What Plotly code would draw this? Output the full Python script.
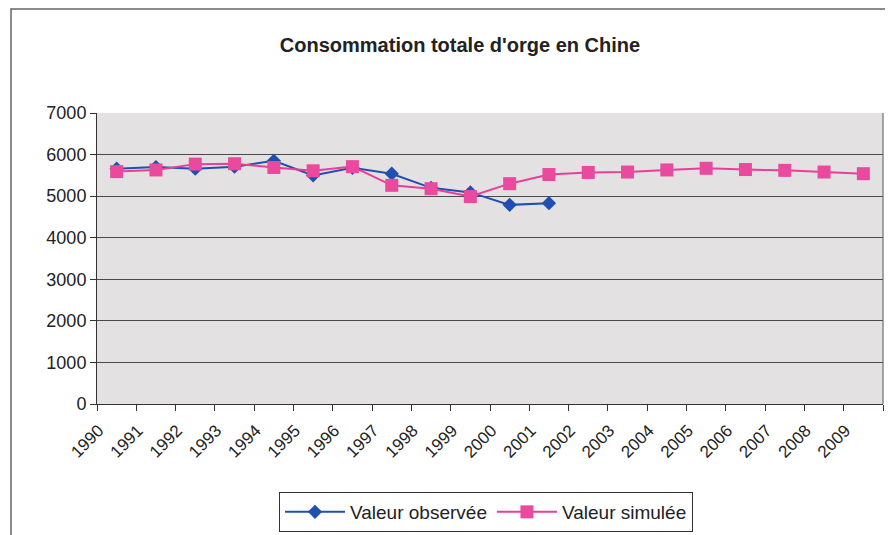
import plotly.graph_objects as go

years = [str(y) for y in range(1990, 2010)]
observed = [5660, 5700, 5660, 5710, 5850, 5500, 5680, 5540, 5200, 5090, 4790, 4830]
simulated = [5590, 5630, 5770, 5780, 5690, 5610, 5710, 5260, 5180, 4990, 5300, 5520,
             5570, 5580, 5630, 5670, 5640, 5620, 5580, 5540]

OFF = 8  # page body margin offset
PX0, PX1 = 97 - OFF, 883 - OFF
PY0, PY1 = 113 - OFF, 404 - OFF
W, H = 893 - OFF, 535 - OFF

def px(x):
    return (x - OFF - PX0) / (PX1 - PX0)

def py(y):
    return (PY1 - (y - OFF)) / (PY1 - PY0)

fig = go.Figure()
fig.add_trace(go.Scatter(
    x=years[:len(observed)], y=observed, name="Valeur observée",
    mode="lines+markers",
    line=dict(color="#1f4fb0", width=2),
    marker=dict(symbol="diamond", size=11, color="#1f4fb0"),
))
fig.add_trace(go.Scatter(
    x=years, y=simulated, name="Valeur simulée",
    mode="lines+markers",
    line=dict(color="#e8409a", width=2),
    marker=dict(symbol="square", size=13, color="#ea4a9e"),
))

fig.update_layout(
    width=W, height=H,
    margin=dict(l=PX0, r=W - PX1, t=PY0, b=H - PY1, autoexpand=False),
    paper_bgcolor="white",
    plot_bgcolor="#e3e1e1",
    font=dict(family="Liberation Sans, Arial, sans-serif", size=16, color="#222"),
    title=dict(text="<b>Consommation totale d'orge en Chine</b>",
               x=(460 - OFF) / W, xanchor="center", xref="container",
               y=1 - (45 - OFF) / H, yanchor="middle", yref="container",
               font=dict(size=20, color="#222")),
    showlegend=True,
    legend=dict(orientation="h", x=px(486), xanchor="center", xref="paper",
                y=py(512), yanchor="middle", yref="paper",
                bgcolor="white", bordercolor="#333", borderwidth=1,
                font=dict(size=19), itemwidth=60, tracegroupgap=0),
    xaxis=dict(type="category", tickangle=-45, tickson="boundaries",
               range=[-0.5, len(years) - 0.5],
               ticks="outside", ticklen=6, tickcolor="#333",
               showline=True, linecolor="#333", linewidth=1,
               showgrid=False, mirror=False, automargin=False,
               ticklabelshift=-18, ticklabelstandoff=9,
               tickfont=dict(size=17)),
    yaxis=dict(range=[0, 7000], dtick=1000, ticks="outside", ticklen=6,
               tickcolor="#333", showline=True, linecolor="#333", linewidth=1,
               showgrid=True, gridcolor="#4a4a4a", gridwidth=1,
               zeroline=False, automargin=False, tickfont=dict(size=18)),
)

# plot area right border
fig.add_shape(type="line", xref="paper", yref="paper", x0=1, x1=1, y0=0, y1=1,
              line=dict(color="#555", width=1))
# chart outer frame
fig.add_shape(type="rect", xref="paper", yref="paper",
              x0=px(11), x1=px(905), y0=py(545), y1=py(9),
              line=dict(color="#666", width=1.5), layer="below")

fig.write_html("out.html")
